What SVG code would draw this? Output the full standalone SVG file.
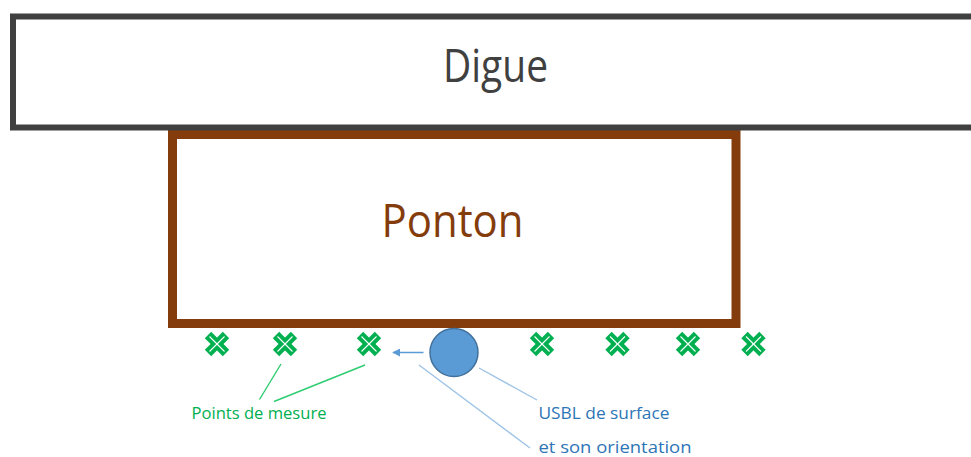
<svg xmlns="http://www.w3.org/2000/svg" width="971" height="457" viewBox="0 0 971 457">
  <defs>
    <style>
      .lbl { font-family: "Open Sans", "Noto Sans", sans-serif; }
      .big { font-size: 45px; }
      .small { font-size: 17px; }
      .green { fill: #00B050; }
      .blue { fill: #2E75B6; }
      .gline { stroke: #2ECC71; stroke-width: 1.4; fill: none; }
      .bline { stroke: #9DC3E6; stroke-width: 1.4; fill: none; }
    </style>
    <g id="cross">
      <line x1="-9" y1="-9" x2="9" y2="9" stroke="#00B050" stroke-width="9"/>
      <line x1="-9" y1="9" x2="9" y2="-9" stroke="#00B050" stroke-width="9"/>
      <line x1="-7.5" y1="-7.5" x2="7.5" y2="7.5" stroke="#ffffff" stroke-width="1.1"/>
      <line x1="-7.5" y1="7.5" x2="7.5" y2="-7.5" stroke="#ffffff" stroke-width="1.1"/>
    </g>
    <marker id="arr" viewBox="0 0 10 10" refX="9" refY="5" markerWidth="8" markerHeight="8" markerUnits="userSpaceOnUse" orient="auto">
      <path d="M0,0 L10,5 L0,10 Z" fill="#5B9BD5"/>
    </marker>
  </defs>
  <rect width="971" height="457" fill="#ffffff"/>

  <g id="ponton">
    <rect x="172.5" y="134.5" width="563.5" height="189" fill="#ffffff" stroke="#843C0C" stroke-width="9"/>
    <text class="lbl big" x="452.5" y="237" text-anchor="middle" fill="#843C0C" textLength="142" lengthAdjust="spacingAndGlyphs">Ponton</text>
  </g>

  <g id="digue">
    <rect x="13" y="16.5" width="970" height="111" fill="#ffffff" stroke="#404040" stroke-width="6"/>
    <text class="lbl big" x="495.5" y="82" text-anchor="middle" fill="#404040" textLength="105" lengthAdjust="spacingAndGlyphs">Digue</text>
  </g>

  <g id="points">
    <use href="#cross" x="217" y="344"/>
    <use href="#cross" x="285" y="344"/>
    <use href="#cross" x="369" y="344"/>
    <use href="#cross" x="542" y="344"/>
    <use href="#cross" x="617.5" y="344"/>
    <use href="#cross" x="688" y="344"/>
    <use href="#cross" x="753.5" y="344"/>
  </g>

  <g id="usbl">
    <circle cx="454" cy="352.5" r="24" fill="#5B9BD5" stroke="#41719C" stroke-width="1.5"/>
  </g>

  <g id="connectors">
    <line x1="423.5" y1="352.5" x2="393" y2="352.5" stroke="#5B9BD5" stroke-width="1.5" marker-end="url(#arr)"/>
    <line class="gline" x1="281" y1="364" x2="259.5" y2="399.5"/>
    <line class="gline" x1="365" y1="365" x2="274" y2="401.5"/>
    <line class="bline" x1="479" y1="368" x2="537" y2="400"/>
    <line class="bline" x1="419" y1="365" x2="530" y2="448"/>
  </g>

  <g id="labels">
    <text class="lbl small green" x="191.5" y="418.5" textLength="135" lengthAdjust="spacingAndGlyphs">Points de mesure</text>
    <text class="lbl small blue" x="538.5" y="418.5" textLength="131" lengthAdjust="spacingAndGlyphs">USBL de surface</text>
    <text class="lbl small blue" x="538.5" y="453" textLength="153" lengthAdjust="spacingAndGlyphs">et son orientation</text>
  </g>
</svg>
